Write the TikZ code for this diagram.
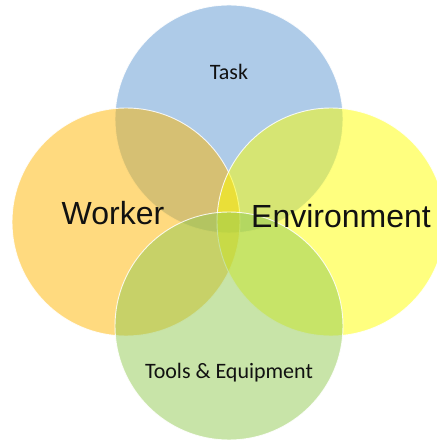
\documentclass[tikz,border=0pt]{standalone}
\usepackage{fontspec}
\usepackage{tikz}
\usetikzlibrary{positioning}

\newfontfamily\calibrifont{Carlito}
\newfontfamily\arialfont{Liberation Sans}

\definecolor{taskblue}{HTML}{5D97D1}
\definecolor{workerorange}{HTML}{FFB500}
\definecolor{envyellow}{HTML}{FFFF00}
\definecolor{toolsgreen}{HTML}{91C951}
\definecolor{labeltext}{HTML}{111111}

\tikzset{
  area/.style={circle, minimum size=228pt, inner sep=0pt,
    fill opacity=0.5, draw=white, draw opacity=0.85, line width=0.9pt},
  smalllabel/.style={anchor=base, text=labeltext, font=\calibrifont\fontsize{22}{24}\selectfont},
  biglabel/.style={anchor=base, text=labeltext, font=\arialfont\fontsize{32}{36}\selectfont}
}

\begin{document}
\begin{tikzpicture}[x=1pt, y=1pt]
  \useasboundingbox (0,0) rectangle (436,441);

  % The four overlapping areas
  \node[area, fill=taskblue]     (task)   at (229,322) {};
  \node[area, fill=workerorange] (worker) at (126,219) {};
  \node[area, fill=envyellow]    (env)    at (331,219) {};
  \node[area, fill=toolsgreen]   (tools)  at (229,115) {};

  % Labels
  \node[smalllabel] (tasklabel)   at (229,361) {Task};
  \node[biglabel]   (workerlabel) at (113,216) {Worker};
  \node[biglabel]   (envlabel)    at (341,213) {Environment};
  \node[smalllabel] (toolslabel)  at (229,62)  {Tools \& Equipment};
\end{tikzpicture}
\end{document}
